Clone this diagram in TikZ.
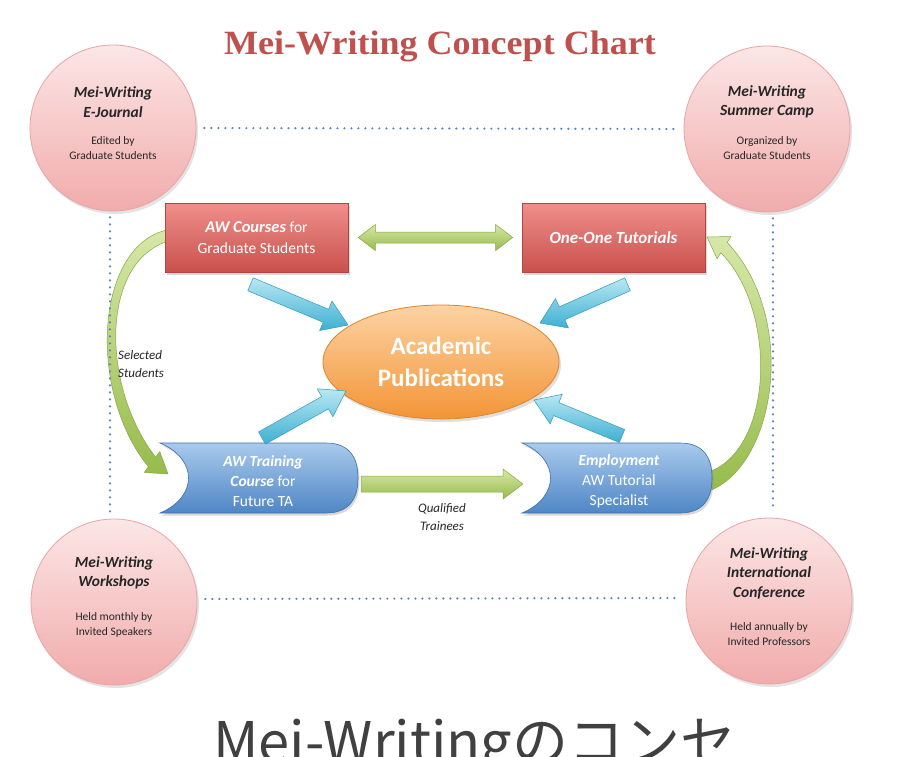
\documentclass[tikz,border=0pt]{standalone}
\usepackage{fontspec}
\setmainfont{Carlito}
\newfontfamily\titlefont{Liberation Serif}
\newfontfamily\cjkfont{Noto Sans CJK JP}
\usetikzlibrary{shapes.geometric,shadows,calc}
\pgfdeclarelayer{back}
\pgfsetlayers{back,main}
\definecolor{pinkT}{HTML}{FCE6E6}
\definecolor{pinkB}{HTML}{F1ABAB}
\definecolor{pinkD}{HTML}{E9A4A4}
\definecolor{redT}{HTML}{EF8F8B}
\definecolor{redB}{HTML}{C9514D}
\definecolor{redD}{HTML}{B5443F}
\definecolor{blueT}{HTML}{A9CAEC}
\definecolor{blueB}{HTML}{4F86C6}
\definecolor{blueD}{HTML}{3E71AD}
\definecolor{cyanT}{HTML}{B9E7F3}
\definecolor{cyanB}{HTML}{3DB0D2}
\definecolor{cyanD}{HTML}{2F9BBB}
\definecolor{greenT}{HTML}{D6E8A8}
\definecolor{greenB}{HTML}{97BB4C}
\definecolor{greenD}{HTML}{86A843}
\definecolor{orT}{HTML}{FCD3A3}
\definecolor{orB}{HTML}{F39436}
\definecolor{orD}{HTML}{DD8530}
\definecolor{dotblue}{HTML}{5B83C0}
\definecolor{titred}{HTML}{C0504D}
\newcommand\fsz[2]{\fontsize{#1}{#2}\selectfont}
\newcommand\fatarrow[6]{%
 \coordinate (fahd) at ($(#3)!#6!(#2)$);
 \path[#1] ($(#2)!#4!90:(#3)$) -- ($(fahd)!#4!90:(#3)$) -- ($(fahd)!#5!90:(#3)$) -- (#3) -- ($(fahd)!#5!-90:(#3)$) -- ($(fahd)!#4!-90:(#3)$) -- ($(#2)!#4!-90:(#3)$) -- cycle;}
\newcommand\fatdouble[6]{%
 \coordinate (fdA) at ($(#2)!#6!(#3)$);
 \coordinate (fdB) at ($(#3)!#6!(#2)$);
 \path[#1] (#2) -- ($(fdA)!#5!90:(#3)$) -- ($(fdA)!#4!90:(#3)$) -- ($(fdB)!#4!-90:(#2)$) -- ($(fdB)!#5!-90:(#2)$) -- (#3) -- ($(fdB)!#5!90:(#2)$) -- ($(fdB)!#4!90:(#2)$) -- ($(fdA)!#4!-90:(#3)$) -- ($(fdA)!#5!-90:(#3)$) -- cycle;}
\newcommand\scrollpath[4]{(#1,#2) -- ({#3-32},#2) .. controls ({#3-9},#2) and (#3,{#2+14}) .. (#3,{(#2+#4)/2}) .. controls (#3,{#4-14}) and ({#3-9},#4) .. ({#3-32},#4) -- (#1,#4) .. controls ({#1+38},{#4-16}) and ({#1+38},{#2+16}) .. (#1,#2) -- cycle}
\begin{document}
\begin{tikzpicture}[x=1pt,y=-1pt,
  circ/.style={circle, minimum size=166pt, inner sep=0, draw=pinkD, line width=0.8pt, top color=pinkT, bottom color=pinkB, drop shadow={opacity=0.22, shadow xshift=2pt, shadow yshift=-3pt}},
  circhead/.style={font=\bfseries\itshape\fsz{15.5}{19.5}, align=center, inner sep=0, text=black!85},
  circsub/.style={font=\fsz{11.5}{15}, align=center, inner sep=0, text=black!85},
  redbox/.style={rectangle, minimum width=183pt, minimum height=69pt, inner sep=0, draw=redD, line width=0.6pt, top color=redT, bottom color=redB, text=white, align=center, drop shadow={opacity=0.3, shadow xshift=1.5pt, shadow yshift=-2.5pt}},
  bluefill/.style={draw=blueD, line width=0.6pt, top color=blueT, bottom color=blueB, drop shadow={opacity=0.3, shadow xshift=1.5pt, shadow yshift=-2.5pt}},
  bluetext/.style={text=white, align=center, font=\fsz{15.5}{20}, inner sep=0},
  greenfill/.style={draw=greenD, line width=0.5pt, top color=greenT, bottom color=greenB},
  cyanfill/.style={draw=cyanD, line width=0.5pt, top color=cyanT, bottom color=cyanB},
  dotline/.style={dotblue, line width=2.4pt, dash pattern=on 0pt off 7pt, line cap=round},
  lbl/.style={font=\itshape\fsz{13}{18}, inner sep=0, text=black!85},
  pub/.style={ellipse, minimum width=236pt, minimum height=114pt, inner sep=0, draw=orD, line width=0.8pt, top color=orT, bottom color=orB, text=white, font=\bfseries\fsz{25}{32}, align=center, drop shadow={opacity=0.25, shadow xshift=2pt, shadow yshift=-3pt}},
  titletext/.style={font=\titlefont\bfseries\fsz{34}{38}, inner sep=0}
]
\useasboundingbox (0,0) rectangle (904,756);
\begin{pgfonlayer}{back}
\fill[white] (0,0) rectangle (904,756);
\end{pgfonlayer}

% title
\node[titletext, text=titred] (title) at (440,46.5) {\scalebox{1.06}[1]{Mei-Writing Concept Chart}};

% circles
\node[circ] (ej) at (113,128) {};
\node[circ] (sc) at (767,129) {};
\node[circ] (ws) at (114,602) {};
\node[circ] (ic) at (769,601) {};
\node[circhead] (ejh) at (113,102) {Mei-Writing\\E-Journal};
\node[circsub] (ejs) at (113,148.5) {Edited by\\Graduate Students};
\node[circhead] (sch) at (767,102) {Mei-Writing\\Summer Camp};
\node[circsub] (scs) at (767,148.5) {Organized by\\Graduate Students};
\node[circhead] (wsh) at (114,573) {Mei-Writing\\Workshops};
\node[circsub] (wss) at (114,624.5) {Held monthly by\\Invited Speakers};
\node[circhead] (ich) at (769,573) {Mei-Writing\\International\\Conference};
\node[circsub] (ics) at (769,634) {Held annually by\\Invited Professors};

% dotted connectors
\draw[dotline, shorten <=8pt, shorten >=8pt] (ej.east) -- (sc.west);
\draw[dotline, shorten <=8pt, shorten >=8pt] ([yshift=3pt]ws.east) -- ([yshift=3pt]ic.west);
\draw[dotline, shorten <=6pt, shorten >=6pt] ([xshift=-3pt]ej.south) -- ([xshift=-4pt]ws.north);
\draw[dotline, shorten <=6pt, shorten >=6pt] ([xshift=6pt]sc.south) -- ([xshift=4pt]ic.north);

% red boxes
\node[redbox, font=\fsz{15.5}{21}] (awc) at (256.5,237.5) {\textbf{\textit{\fsz{16.5}{21}AW Courses}} for\\Graduate Students};
\node[redbox, font=\bfseries\itshape\fsz{17}{21}] (oot) at (613.5,237.5) {One-One Tutorials};

% blue shapes
\path[bluefill] \scrollpath{160}{443}{358}{513};
\path[bluefill] \scrollpath{522}{443}{712}{513};
\node[bluetext] (awt) at (263,481) {\textbf{\textit{AW Training}}\\\textbf{\textit{Course}} for\\Future TA};
\node[bluetext] (emp) at (619,481) {\textbf{\textit{Employment}}\\AW Tutorial\\Specialist};

% ellipse
\node[pub] (pub) at (441,362) {Academic\\Publications};

% green straight arrows
\coordinate (gA) at ($(awc.east)+(10,0)$);
\coordinate (gB) at ($(oot.west)+(-9,0)$);
\fatdouble{greenfill}{gA}{gB}{5.5pt}{13pt}{17pt}
\coordinate (qA) at (361,484);
\coordinate (qB) at (523,484);
\fatarrow{greenfill}{qA}{qB}{8pt}{15pt}{20pt}

% cyan arrows
\coordinate (c1s) at ($(awc.south)+(-6,12)$);
\coordinate (c1t) at (348,325);
\fatarrow{cyanfill}{c1s}{c1t}{7pt}{16pt}{24pt}
\coordinate (c2s) at ($(oot.south)+(14,12)$);
\coordinate (c2t) at (540,323);
\fatarrow{cyanfill}{c2s}{c2t}{7pt}{16pt}{24pt}
\coordinate (c3s) at (262,438);
\coordinate (c3t) at (346,391);
\fatarrow{cyanfill}{c3s}{c3t}{7pt}{16pt}{24pt}
\coordinate (c4s) at (622,436);
\coordinate (c4t) at (534,400);
\fatarrow{cyanfill}{c4s}{c4t}{7pt}{16pt}{24pt}

% curved green arrows (behind the boxes)
\begin{pgfonlayer}{back}
\path[greenfill] (172,229) .. controls (95,240) and (86,390) .. (148.4,466.8) -- (144.2,472.4) -- (168,474) -- (159.8,451.6) -- (155.6,457.2) .. controls (100,385) and (100,258) .. (172,240) -- cycle;
\path[greenfill] (706,492) .. controls (775,470) and (800,320) .. (727.2,242.5) -- (730.9,236.5) -- (707,237) -- (717.1,258.7) -- (720.8,252.7) .. controls (778,310) and (775,455) .. (703,474) -- cycle;
\end{pgfonlayer}

% labels
\node[lbl, anchor=west, align=left] (sel) at (118,364) {Selected\\Students};
\node[lbl, align=center] (qual) at (442,517) {Qualified\\Trainees};

% bottom caption (cut off by the page edge, as in the reference)
\node[anchor=base west, inner sep=0, text=black!75, font=\cjkfont\fsz{56}{60}] (jp) at (213,762) {Mei-Writingのコンセ};
\end{tikzpicture}
\end{document}
